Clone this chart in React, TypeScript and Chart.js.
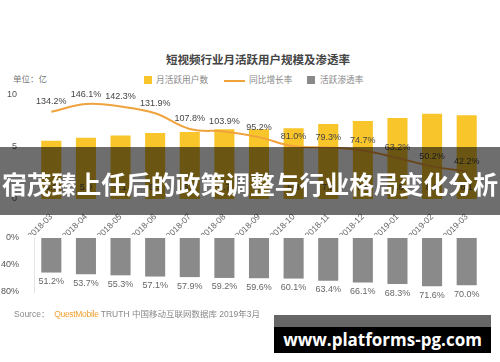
import React, { useEffect, useRef } from 'react';
import { Chart, registerables } from 'chart.js';

Chart.register(...registerables);

// ---------- data ----------
const months = [
  '2018-03', '2018-04', '2018-05', '2018-06', '2018-07', '2018-08', '2018-09',
  '2018-10', '2018-11', '2018-12', '2019-01', '2019-02', '2019-03',
];
const mauValues = [5.6, 5.9, 6.1, 6.35, 6.45, 6.7, 6.7, 6.8, 7.2, 7.5, 7.8, 8.2, 8.05];
const growthRates = [134.2, 146.1, 142.3, 131.9, 107.8, 103.9, 95.2, 81.0, 79.3, 74.7, 63.2, 50.2, 42.2];
const penetrationRates = [51.2, 53.7, 55.3, 57.1, 57.9, 59.2, 59.6, 60.1, 63.4, 66.1, 68.3, 71.6, 70.0];
const mauTicks = [0, 5, 10];
const penTicks = [0, 40, 80];

const titleText = '短视频行业月活跃用户规模及渗透率';
const unitText = '单位：亿';
const legendNames = ['月活跃用户数', '同比增长率', '活跃渗透率'];
const bannerText = '宿茂臻上任后的政策调整与行业格局变化分析';
const urlText = 'www.platforms-pg.com';

const FONT = '"Liberation Sans", "Noto Sans CJK SC", Arial, sans-serif';
const CJK = '"Noto Sans CJK SC", "Liberation Sans", sans-serif';

const YELLOW = '#F8C52A';
const ORANGE = '#F0A33C';
const GRAY = '#8A8A8A';

const topLabelsPlugin = {
  id: 'topLabels',
  afterDatasetsDraw(chart: any) {
    const ctx = chart.ctx;
    const barMeta = chart.getDatasetMeta(0);
    const lineMeta = chart.getDatasetMeta(1);
    ctx.save();
    ctx.font = '9px ' + FONT;
    ctx.textAlign = 'center';
    ctx.textBaseline = 'middle';
    ctx.fillStyle = '#555';
    barMeta.data.forEach((el: any, i: number) => {
      ctx.fillText(mauValues[i].toFixed(1), el.x, chart.chartArea.bottom - 11);
    });
    ctx.fillStyle = '#444';
    lineMeta.data.forEach((el: any, i: number) => {
      ctx.fillText(growthRates[i].toFixed(1) + '%', el.x, el.y - 10);
    });
    ctx.restore();
  },
};

const bottomLabelsPlugin = {
  id: 'bottomLabels',
  afterDatasetsDraw(chart: any) {
    const ctx = chart.ctx;
    const meta = chart.getDatasetMeta(0);
    ctx.save();
    ctx.font = '9px ' + FONT;
    ctx.textAlign = 'center';
    ctx.textBaseline = 'middle';
    ctx.fillStyle = '#666';
    meta.data.forEach((el: any, i: number) => {
      ctx.fillText(penetrationRates[i].toFixed(1) + '%', el.x, el.y + 9);
    });
    ctx.restore();
  },
};

export default function App() {
  const topRef = useRef<HTMLCanvasElement>(null);
  const botRef = useRef<HTMLCanvasElement>(null);

  useEffect(() => {
    const prevMargin = document.body.style.margin;
    document.body.style.margin = '0';

    const top = new Chart(topRef.current as HTMLCanvasElement, {
      type: 'bar',
      data: {
        labels: months,
        datasets: [
          {
            type: 'bar',
            label: legendNames[0],
            data: mauValues,
            backgroundColor: YELLOW,
            yAxisID: 'y',
            categoryPercentage: 1,
            barPercentage: 0.58,
            order: 1,
          } as any,
          {
            type: 'line',
            label: legendNames[1],
            data: growthRates,
            borderColor: ORANGE,
            borderWidth: 2,
            pointRadius: 0,
            tension: 0.4,
            fill: false,
            yAxisID: 'y1',
            order: 0,
          } as any,
        ],
      },
      options: {
        responsive: false,
        animation: false,
        layout: { padding: { top: 95, right: 16, left: 0, bottom: 0 } },
        plugins: { legend: { display: false }, tooltip: { enabled: false }, title: { display: false } },
        scales: {
          x: {
            grid: { display: false },
            border: { display: false },
            ticks: {
              autoSkip: false,
              minRotation: 45,
              maxRotation: 45,
              color: '#666',
              font: { size: 8.5, family: FONT },
              padding: 5,
            },
            afterFit: (s: any) => { s.height = 36; },
          },
          y: {
            min: 0,
            max: 10,
            afterBuildTicks: (s: any) => { s.ticks = mauTicks.map((v) => ({ value: v })); },
            grid: { display: false },
            border: { display: false },
            ticks: { color: '#555', font: { size: 9, family: FONT }, padding: 9 },
            afterFit: (s: any) => { s.width = 34; },
          },
          y1: {
            display: false,
            min: 0,
            max: 160,
          },
        },
      } as any,
      plugins: [topLabelsPlugin],
    });

    const bottom = new Chart(botRef.current as HTMLCanvasElement, {
      type: 'bar',
      data: {
        labels: months,
        datasets: [
          {
            label: legendNames[2],
            data: penetrationRates,
            backgroundColor: GRAY,
            categoryPercentage: 1,
            barPercentage: 0.58,
          },
        ],
      },
      options: {
        responsive: false,
        animation: false,
        layout: { padding: { top: 13, right: 16, left: 0, bottom: 13 } },
        plugins: { legend: { display: false }, tooltip: { enabled: false } },
        scales: {
          x: { display: false },
          y: {
            reverse: true,
            min: 0,
            max: 80,
            afterBuildTicks: (s: any) => { s.ticks = penTicks.map((v) => ({ value: v })); },
            grid: { display: false },
            border: { display: true, color: '#e4e4e4', width: 1 },
            ticks: {
              color: '#555',
              font: { size: 9, family: FONT },
              padding: 7,
              callback: (v: any) => v + '%',
            },
            afterFit: (s: any) => { s.width = 34; },
          },
        },
      } as any,
      plugins: [bottomLabelsPlugin],
    });

    return () => {
      top.destroy();
      bottom.destroy();
      document.body.style.margin = prevMargin;
    };
  }, []);

  const abs = (o: any) => ({ position: 'absolute', ...o } as React.CSSProperties);

  return (
    <div style={{ position: 'fixed', left: 0, top: 0, width: 500, height: 362, background: '#fff', overflow: 'hidden', fontFamily: FONT }}>
      <div style={abs({ left: 0, top: 52, width: 516, textAlign: 'center', fontFamily: CJK, fontWeight: 'bold', fontSize: 11.5, lineHeight: '14px', color: '#444', whiteSpace: 'nowrap' })}>
        {titleText}
      </div>
      <div style={abs({ left: 13, top: 72, fontFamily: CJK, fontSize: 8.5, lineHeight: '12px', color: '#777', whiteSpace: 'nowrap' })}>
        {unitText}
      </div>
      {/* legend */}
      <div style={abs({ left: 144, top: 76, width: 8, height: 8, background: YELLOW })} />
      <div style={abs({ left: 156, top: 74, fontFamily: CJK, fontSize: 8.7, lineHeight: '12px', color: '#888', whiteSpace: 'nowrap' })}>{legendNames[0]}</div>
      <div style={abs({ left: 224, top: 79.5, width: 21, height: 2, background: ORANGE })} />
      <div style={abs({ left: 249, top: 74, fontFamily: CJK, fontSize: 8.7, lineHeight: '12px', color: '#888', whiteSpace: 'nowrap' })}>{legendNames[1]}</div>
      <div style={abs({ left: 307, top: 76, width: 8, height: 8, background: GRAY })} />
      <div style={abs({ left: 320, top: 74, fontFamily: CJK, fontSize: 8.7, lineHeight: '12px', color: '#888', whiteSpace: 'nowrap' })}>{legendNames[2]}</div>

      <canvas ref={topRef} width={500} height={235} style={abs({ left: 0, top: 0 })} />
      <canvas ref={botRef} width={500} height={80} style={abs({ left: 0, top: 225 })} />

      <div style={abs({ left: 14, top: 308, fontSize: 8.5, lineHeight: '12px', color: '#888', whiteSpace: 'nowrap', fontFamily: FONT })}>
        Source：&nbsp;&nbsp;<span style={{ color: '#F0A030', letterSpacing: -0.3 }}>QuestMobile</span> TRUTH 中国移动互联网数据库 2019年3月
      </div>

      {/* overlay banner */}
      <div style={abs({ left: 0, top: 147, width: 500, height: 68, background: 'rgba(0,0,0,0.57)' })} />
      <div style={abs({ left: 0, top: 168, width: 500, textAlign: 'center', fontFamily: CJK, fontWeight: 'bold', fontSize: 24.8, lineHeight: '30px', color: '#fff', whiteSpace: 'nowrap' })}>
        {bannerText}
      </div>

      {/* url box */}
      <div style={abs({ left: 274, top: 315, width: 217, height: 12, background: 'rgba(0,0,0,0.6)' })} />
      <div style={abs({ left: 274, top: 327, width: 217, height: 26, background: '#000', color: '#fff', fontFamily: '"Open Sans", sans-serif', fontWeight: 'bold', fontSize: 17, lineHeight: '26px', textAlign: 'center', whiteSpace: 'nowrap' })}>
        {urlText}
      </div>
    </div>
  );
}
